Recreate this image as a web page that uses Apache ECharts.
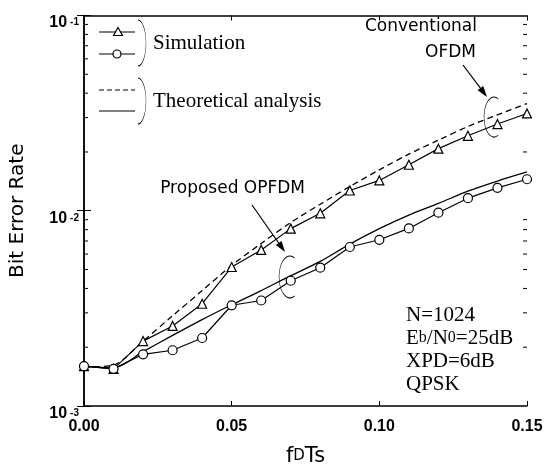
<!DOCTYPE html>
<html>
<head>
<meta charset="utf-8">
<script src="https://cdn.jsdelivr.net/npm/echarts@6/dist/echarts.min.js"></script>
<style>html,body{margin:0;padding:0;background:#fff;}#c{width:546px;height:474px;}</style>
</head>
<body>
<div id="c"></div>
<script>
// ---- data ----
const fdTs = [0, 0.01, 0.02, 0.03, 0.04, 0.05, 0.06, 0.07, 0.08, 0.09, 0.10, 0.11, 0.12, 0.13, 0.14, 0.15];
const convSim = [1.6e-3, 1.55e-3, 2.15e-3, 2.57e-3, 3.34e-3, 5.15e-3, 6.3e-3, 8.1e-3, 9.7e-3, 1.27e-2, 1.43e-2, 1.72e-2, 2.08e-2, 2.42e-2, 2.78e-2, 3.15e-2];
const propSim = [1.6e-3, 1.55e-3, 1.84e-3, 1.93e-3, 2.23e-3, 3.28e-3, 3.47e-3, 4.38e-3, 5.11e-3, 6.52e-3, 7.1e-3, 8.12e-3, 9.77e-3, 1.16e-2, 1.31e-2, 1.45e-2];
const convTheory = [1.58e-3, 1.62e-3, 2.15e-3, 2.9e-3, 3.9e-3, 5.25e-3, 6.8e-3, 8.7e-3, 1.08e-2, 1.33e-2, 1.62e-2, 1.95e-2, 2.3e-2, 2.7e-2, 3.1e-2, 3.54e-2];
const propTheory = [1.6e-3, 1.57e-3, 1.9e-3, 2.3e-3, 2.77e-3, 3.3e-3, 3.9e-3, 4.65e-3, 5.5e-3, 6.75e-3, 8.1e-3, 9.5e-3, 1.09e-2, 1.26e-2, 1.42e-2, 1.58e-2];
const xTicks = [0, 0.05, 0.10, 0.15];
const minorVals = [2e-3,3e-3,4e-3,5e-3,6e-3,7e-3,8e-3,9e-3,2e-2,3e-2,4e-2,5e-2,6e-2,7e-2,8e-2,9e-2];
const infoLines = ['N=1024', 'Eb/N0=25dB', 'XPD=6dB', 'QPSK'];

const pair = arr => fdTs.map((x, i) => [x, arr[i]]);
const SANS = 'Liberation Sans, Arial, sans-serif';
const WIDE = 'DejaVu Sans, Verdana, sans-serif';
const SERIF = 'Liberation Serif, Times New Roman, serif';

const chart = echarts.init(document.getElementById('c'), null, {renderer: 'canvas'});

function arrow(x1, y1, x2, y2) {
  const a = Math.atan2(y2 - y1, x2 - x1), L = 11, W = 3.5;
  const bx = x2 - L * Math.cos(a), by = y2 - L * Math.sin(a);
  return [
    {type: 'line', shape: {x1, y1, x2: bx, y2: by}, style: {stroke: '#000', lineWidth: 1.2}},
    {type: 'polygon', shape: {points: [[x2, y2], [bx + W * Math.sin(a), by - W * Math.cos(a)], [bx - W * Math.sin(a), by + W * Math.cos(a)]]}, style: {fill: '#000'}}
  ];
}
function earc(cx, cy, rx, ry, a0deg, a1deg, clockwise) {
  return {type: 'arc', x: cx, y: cy, scaleX: rx / ry, scaleY: 1,
    shape: {cx: 0, cy: 0, r: ry, startAngle: a0deg * Math.PI / 180, endAngle: a1deg * Math.PI / 180, clockwise: clockwise},
    style: {fill: null, stroke: '#000', lineWidth: 1.1, strokeNoScale: true}};
}

const graphics = [];
// legend
graphics.push({type: 'line', shape: {x1: 99, y1: 32, x2: 135, y2: 32}, style: {stroke: '#000', lineWidth: 1.2}});
graphics.push({type: 'polygon', shape: {points: [[118, 27.5], [122.5, 35.5], [113.5, 35.5]]}, style: {fill: '#fff', stroke: '#000', lineWidth: 1.2}});
graphics.push({type: 'line', shape: {x1: 99, y1: 54, x2: 135, y2: 54}, style: {stroke: '#000', lineWidth: 1.2}});
graphics.push({type: 'circle', shape: {cx: 117, cy: 54, r: 4}, style: {fill: '#fff', stroke: '#000', lineWidth: 1.2}});
graphics.push(earc(138, 43, 8, 23, -90, 90, true));
graphics.push({type: 'text', x: 153, y: 43, style: {text: 'Simulation', font: '21px ' + SERIF, fill: '#000', textVerticalAlign: 'middle'}});
graphics.push({type: 'line', shape: {x1: 99, y1: 90, x2: 135, y2: 90}, style: {stroke: '#000', lineWidth: 1.2, lineDash: [5, 3]}});
graphics.push({type: 'line', shape: {x1: 99, y1: 111, x2: 135, y2: 111}, style: {stroke: '#000', lineWidth: 1.2}});
graphics.push(earc(138, 101, 8, 23, -90, 90, true));
graphics.push({type: 'text', x: 153, y: 101, style: {text: 'Theoretical analysis', font: '21px ' + SERIF, fill: '#000', textVerticalAlign: 'middle'}});
// Conventional OFDM
graphics.push({type: 'text', x: 477, y: 27, style: {text: 'Conventional', font: '17px ' + WIDE, fill: '#000', textAlign: 'right', textVerticalAlign: 'middle'}});
graphics.push({type: 'text', x: 476, y: 53, style: {text: 'OFDM', font: '17px ' + WIDE, fill: '#000', textAlign: 'right', textVerticalAlign: 'middle'}});
graphics.push(...arrow(463, 65, 487, 97));
graphics.push(earc(494, 117, 10, 20, -65, 65, false));
// Proposed OPFDM
graphics.push({type: 'text', x: 305, y: 189, style: {text: 'Proposed OPFDM', font: '17px ' + WIDE, fill: '#000', textAlign: 'right', textVerticalAlign: 'middle'}});
graphics.push(...arrow(252, 205, 285, 252));
graphics.push(earc(290, 277, 11, 21, -65, 65, false));
// info block
infoLines.forEach((t, i) => {
  let txt;
  if (t.startsWith('Eb/N0')) txt = '{n|E}{s|b}{n|/N}{s|0}{n|' + t.slice(5) + '}';
  else txt = '{n|' + t + '}';
  graphics.push({type: 'text', x: 406, y: 315 + i * 23, style: {text: txt, textVerticalAlign: 'middle', rich: {
    n: {fontSize: 21, fontFamily: SERIF, fill: '#000'}, s: {fontSize: 16, fontFamily: SERIF, fill: '#000'}
  }}});
});

const axisLineStyle = {color: '#000', width: 1.5};
chart.setOption({
  animation: false,
  backgroundColor: '#fff',
  grid: {left: 84, right: 19, top: 8, bottom: 68, containLabel: false},
  xAxis: [{
    type: 'value', min: 0, max: 0.15, interval: 0.05, position: 'bottom',
    name: '{f|f}{d|D}{f|Ts}', nameLocation: 'middle', nameGap: 40,
    nameTextStyle: {rich: {f: {fontSize: 21, fontFamily: WIDE, color: '#000'}, d: {fontSize: 15, fontFamily: WIDE, color: '#000'}}},
    axisLine: {lineStyle: axisLineStyle},
    axisTick: {inside: true, length: 5, lineStyle: {color: '#000'}},
    axisLabel: {margin: 13, color: '#000', fontSize: 16, fontWeight: 'bold', fontFamily: SANS, formatter: v => v.toFixed(2)},
    splitLine: {show: false}
  }, {
    type: 'value', min: 0, max: 0.15, interval: 0.05, position: 'top',
    axisLine: {show: true, lineStyle: axisLineStyle},
    axisTick: {show: true, inside: true, length: 5, lineStyle: {color: '#000'}},
    axisLabel: {show: false}, splitLine: {show: false}
  }],
  yAxis: [{
    type: 'log', logBase: 10, min: 0.001, max: 0.1, position: 'left',
    name: 'Bit Error Rate', nameLocation: 'middle', nameGap: 56, nameRotate: 90,
    nameTextStyle: {fontSize: 20, fontFamily: WIDE, color: '#000'},
    axisLine: {show: true, lineStyle: axisLineStyle},
    axisTick: {inside: true, length: 7, lineStyle: {color: '#000'}},
    axisLabel: {margin: 5, color: '#000', formatter: v => '{a|10}{b|' + Math.round(Math.log10(v)) + '}',
      rich: {
        a: {fontSize: 16, fontWeight: 'bold', fontFamily: SANS, color: '#000', lineHeight: 16, padding: [15, 0, 0, 0]},
        b: {fontSize: 10, fontWeight: 'bold', fontFamily: SANS, color: '#000', lineHeight: 10, padding: [10, 0, 0, 3], verticalAlign: 'top'}
      }},
    splitLine: {show: false}
  }, {
    type: 'log', logBase: 10, min: 0.001, max: 0.1, position: 'right',
    axisLine: {show: true, lineStyle: axisLineStyle},
    axisTick: {show: true, inside: true, length: 7, lineStyle: {color: '#000'}},
    axisLabel: {show: false}, splitLine: {show: false}
  }],
  series: [
    {type: 'line', data: pair(convSim), symbol: 'triangle', symbolSize: 9, showSymbol: true,
      lineStyle: {color: '#000', width: 1.2}, itemStyle: {color: '#fff', borderColor: '#000', borderWidth: 1.2}, z: 5},
    {type: 'line', data: pair(propSim), symbol: 'circle', symbolSize: 9, showSymbol: true,
      lineStyle: {color: '#000', width: 1.2}, itemStyle: {color: '#fff', borderColor: '#000', borderWidth: 1.2}, z: 5},
    {type: 'line', data: pair(convTheory), symbol: 'none', smooth: 0.3,
      lineStyle: {color: '#000', width: 1.3, type: [6, 4]}, z: 3},
    {type: 'line', data: pair(propTheory), symbol: 'none', smooth: 0.3,
      lineStyle: {color: '#000', width: 1.3}, z: 3},
    {type: 'custom', data: minorVals.map(v => [0, v]), silent: true, clip: false,
      renderItem: (params, api) => {
        const v = api.value(1);
        const pl = api.coord([0, v]), pr = api.coord([0.15, v]);
        return {type: 'group', children: [
          {type: 'line', shape: {x1: pl[0], y1: pl[1], x2: pl[0] + 4, y2: pl[1]}, style: {stroke: '#000', lineWidth: 1}},
          {type: 'line', shape: {x1: pr[0], y1: pr[1], x2: pr[0] - 4, y2: pr[1]}, style: {stroke: '#000', lineWidth: 1}}
        ]};
      }}
  ],
  graphic: graphics
});
</script>
</body>
</html>
